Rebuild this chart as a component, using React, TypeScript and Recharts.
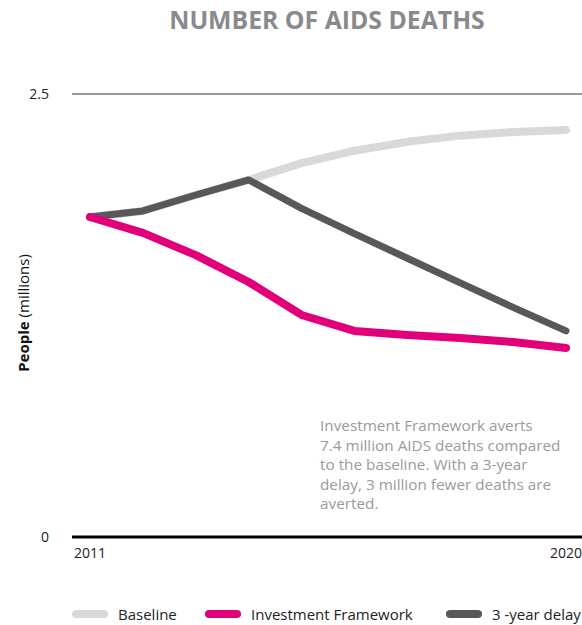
import { LineChart, Line, XAxis, YAxis, ReferenceLine } from 'recharts'

const years = [2011, 2012, 2013, 2014, 2015, 2016, 2017, 2018, 2019, 2020]
const baseline = [1.806, 1.84, 1.93, 2.015, 2.11, 2.18, 2.23, 2.265, 2.285, 2.297]
const investment = [1.806, 1.716, 1.591, 1.439, 1.253, 1.163, 1.14, 1.123, 1.1, 1.067]
const delay = [1.806, 1.84, 1.93, 2.015, 1.855, 1.712, 1.573, 1.434, 1.296, 1.163]
const yTicks = [0, 2.5]
const xTicks = [2011, 2020]

const series = [
  { key: 'baseline', name: 'Baseline', color: '#d9d9db', width: 8 },
  { key: 'delay', name: '3 -year delay', color: '#58585a', width: 7 },
  { key: 'investment', name: 'Investment Framework', color: '#e2007a', width: 8 },
]
// legend order and x position of each swatch
const legendOrder = ['baseline', 'investment', 'delay']
const legendLeft = [72, 205, 446]

const data = years.map((year, i) => ({
  year,
  baseline: baseline[i],
  investment: investment[i],
  delay: delay[i],
}))

const FONT = '"Open Sans", "Noto Sans", sans-serif'

export default function App() {
  return (
    <div
      style={{
        position: 'absolute',
        left: 0,
        top: 0,
        width: 582,
        height: 625,
        overflow: 'hidden',
        background: '#fff',
        fontFamily: FONT,
      }}
    >
      <div
        style={{
          position: 'absolute',
          left: 0,
          width: 654,
          top: 2,
          textAlign: 'center',
          fontSize: 24.8,
          fontWeight: 700,
          color: '#8a8a8c',
        }}
      >
        NUMBER OF AIDS DEATHS
      </div>

      <LineChart
        width={640}
        height={625}
        data={data}
        margin={{ top: 94, right: 0, bottom: 58, left: 0 }}
      >
        <XAxis
          dataKey="year"
          type="number"
          domain={[2011, 2020]}
          ticks={xTicks}
          height={30}
          padding={{ left: 18, right: 74 }}
          axisLine={{ stroke: '#000', strokeWidth: 3 }}
          tickLine={false}
          tickMargin={5}
          tick={{ fontSize: 14, fill: '#222', fontFamily: FONT }}
        />
        <YAxis
          type="number"
          domain={[0, 2.5]}
          ticks={yTicks}
          width={72}
          axisLine={false}
          tickLine={false}
          tickMargin={17}
          tick={{ fontSize: 14, fill: '#222', fontFamily: FONT }}
        />
        <ReferenceLine y={2.5} stroke="#333" strokeWidth={1} />
        {series.map((s) => (
          <Line
            key={s.key}
            dataKey={s.key}
            type="linear"
            stroke={s.color}
            strokeWidth={s.width}
            strokeLinecap="round"
            strokeLinejoin="round"
            dot={false}
            activeDot={false}
            isAnimationActive={false}
          />
        ))}
      </LineChart>

      <div
        style={{
          position: 'absolute',
          left: 23,
          top: 313,
          transform: 'translate(-50%, -50%) rotate(-90deg)',
          whiteSpace: 'nowrap',
          fontSize: 15,
          color: '#111',
        }}
      >
        <b>People</b> (millions)
      </div>

      <div
        style={{
          position: 'absolute',
          left: 320,
          top: 416,
          fontSize: 15.3,
          lineHeight: '19.5px',
          color: '#9a9a9c',
          whiteSpace: 'nowrap',
        }}
      >
        Investment Framework averts
        <br />
        7.4 million AIDS deaths compared
        <br />
        to the baseline. With a 3-year
        <br />
        delay, 3 million fewer deaths are
        <br />
        averted.
      </div>

      {legendOrder.map((k, i) => {
        const s = series.find((x) => x.key === k)!
        return (
          <div
            key={k}
            style={{
              position: 'absolute',
              left: legendLeft[i],
              top: 604,
              display: 'flex',
              alignItems: 'center',
              whiteSpace: 'nowrap',
              fontSize: 15,
              color: '#222',
            }}
          >
            <span
              style={{
                display: 'inline-block',
                width: 36,
                height: 8,
                borderRadius: 4,
                background: s.color,
                marginRight: 10,
              }}
            />
            <span>{s.name}</span>
          </div>
        )
      })}
    </div>
  )
}
